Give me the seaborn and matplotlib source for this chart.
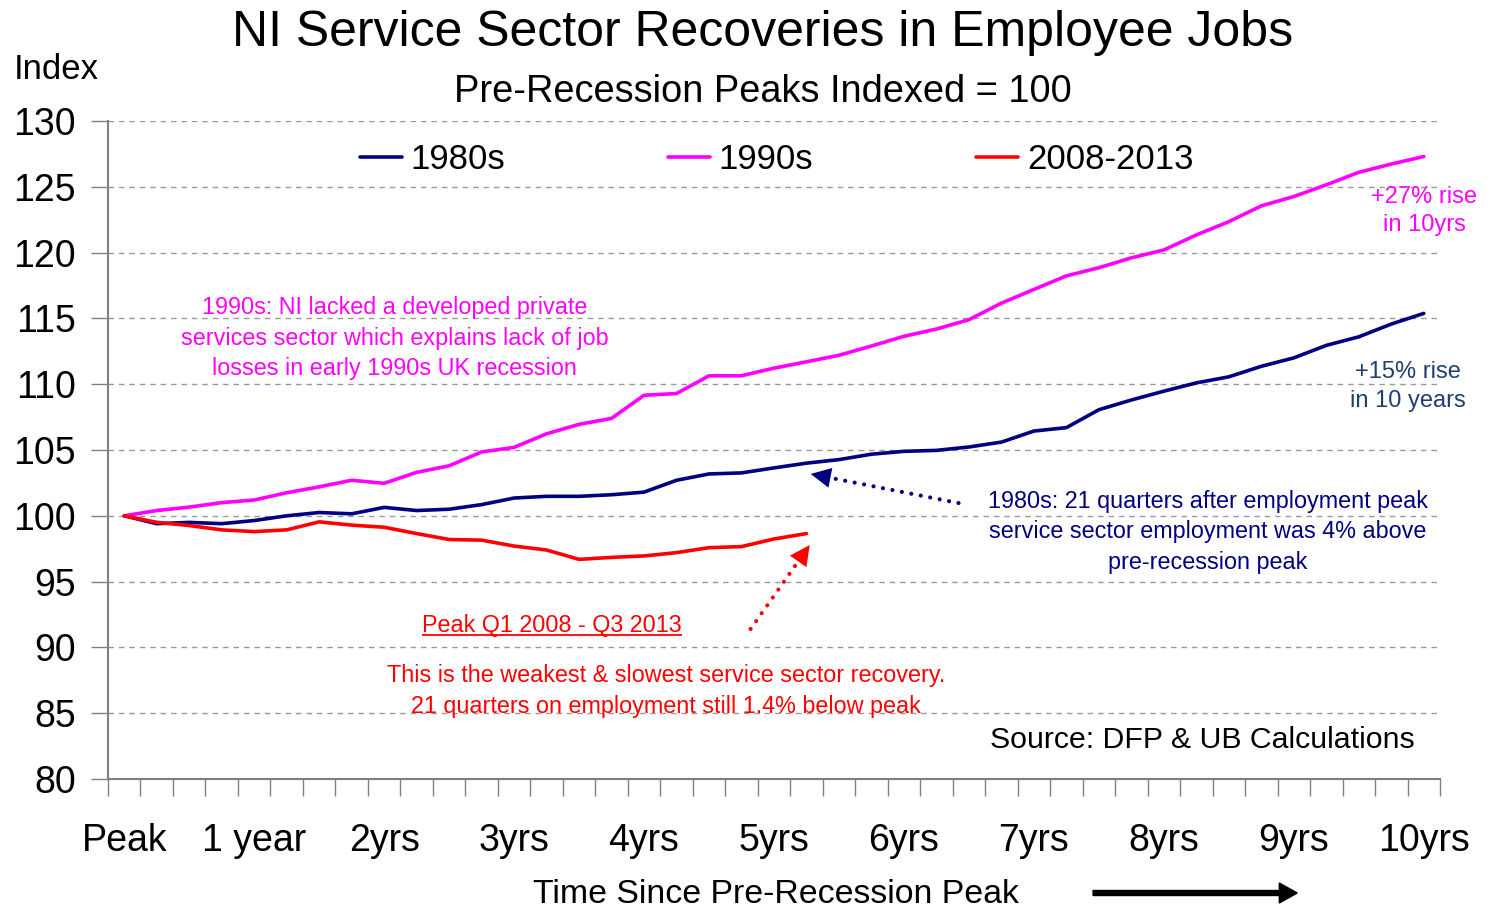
import numpy as np
import pandas as pd
import matplotlib
matplotlib.use("Agg")
import matplotlib.pyplot as plt
import seaborn as sns
from matplotlib.lines import Line2D

# ---------------- data ----------------
tick_labels = ["Peak", "1 year", "2yrs", "3yrs", "4yrs", "5yrs",
               "6yrs", "7yrs", "8yrs", "9yrs", "10yrs"]
series_names = ["1980s", "1990s", "2008-2013"]

s1980 = [100.0, 99.4, 99.5, 99.4, 99.64, 100.0, 100.25, 100.15, 100.64, 100.4,
         100.5, 100.85, 101.35, 101.48, 101.48, 101.6, 101.8, 102.7, 103.18, 103.26,
         103.64, 104.0, 104.27, 104.68, 104.9, 104.97, 105.23, 105.6, 106.44, 106.7,
         108.06, 108.8, 109.47, 110.1, 110.56, 111.36, 112.0, 112.95, 113.6, 114.57,
         115.38]
s1990 = [100.0, 100.4, 100.66, 101.0, 101.2, 101.75, 102.2, 102.7, 102.47, 103.3,
         103.8, 104.85, 105.2, 106.23, 106.95, 107.4, 109.16, 109.29, 110.64, 110.64,
         111.22, 111.7, 112.2, 112.9, 113.64, 114.19, 114.9, 116.16, 117.2, 118.23,
         118.85, 119.6, 120.2, 121.34, 122.35, 123.55, 124.26, 125.15, 126.1, 126.73,
         127.3]
s2008 = [100.0, 99.5, 99.26, 98.93, 98.8, 98.93, 99.54, 99.29, 99.13, 98.65,
         98.2, 98.15, 97.7, 97.4, 96.69, 96.84, 96.95, 97.2, 97.58, 97.66,
         98.24, 98.65]

colors = {"1980s": "#000080", "1990s": "#FF00FF", "2008-2013": "#FF0000"}

frames = []
for name, vals in zip(series_names, [s1980, s1990, s2008]):
    frames.append(pd.DataFrame({"quarter": np.arange(len(vals)),
                                "index": vals, "series": name}))
df = pd.concat(frames, ignore_index=True)

# ---------------- style ----------------
sns.set_style("white")
plt.rcParams['font.family'] = ['Liberation Sans', 'DejaVu Sans']
plt.rcParams['text.color'] = 'black'
plt.rcParams['xtick.labelcolor'] = 'black'
plt.rcParams['ytick.labelcolor'] = 'black'

fig = plt.figure(figsize=(14.9, 9.09), dpi=100)
ax = fig.add_axes([108/1490, 130/909, 1332/1490, 658/909])

sns.lineplot(data=df, x="quarter", y="index", hue="series",
             palette=colors, hue_order=series_names, linewidth=2.6,
             ax=ax, legend=False, zorder=3)

ax.set_xlim(-0.5, 40.5)
ax.set_ylim(80, 130)
ax.set_xlabel("")
ax.set_ylabel("")

# y axis
ax.set_yticks(np.arange(80, 131, 5))
ax.tick_params(axis="y", which="major", labelsize=27, length=12, width=1,
               color="#808080", direction="out", pad=11, left=True)
ax.yaxis.grid(True, linestyle=(0, (4, 3.5)), color="#9a9a9a", linewidth=1)
ax.xaxis.grid(False)

# x axis
ax.set_xticks(np.arange(0, 41, 4))
ax.set_xticklabels(tick_labels)
ax.set_xticks(np.arange(-0.5, 41, 1), minor=True)
ax.tick_params(axis="x", which="major", labelsize=27, length=0, pad=32)
ax.tick_params(axis="x", which="minor", length=12, width=1,
               color="#808080", direction="out", bottom=True)

for s in ["top", "right"]:
    ax.spines[s].set_visible(False)
for s in ["left", "bottom"]:
    ax.spines[s].set_color("#808080")
    ax.spines[s].set_linewidth(1.5)

# legend
handles = [Line2D([0], [0], color=colors[n], lw=2.6) for n in series_names]
ax.legend(handles, series_names, loc="center", bbox_to_anchor=(0.502, 0.941),
          ncol=3, frameon=False, fontsize=25, handlelength=1.2,
          handletextpad=0.25, columnspacing=4.7)

# titles
fig.text(0.512, 0.964, "NI Service Sector Recoveries in Employee Jobs",
         ha="center", va="center", fontsize=36)
fig.text(0.512, 0.899, "Pre-Recession Peaks Indexed = 100",
         ha="center", va="center", fontsize=27.4)
fig.text(0.0094, 0.923, "Index", ha="left", va="center", fontsize=25)
fig.text(0.521, 0.0165, "Time Since Pre-Recession Peak",
         ha="center", va="center", fontsize=24.4)
fig.patches.append(matplotlib.patches.FancyArrow(
    0.7336, 0.0176, 0.125, 0, width=0.0055, head_width=0.022,
    head_length=0.012, length_includes_head=False, color="black",
    transform=fig.transFigure, figure=fig))


def dotted_arrow(tail, tip, color):
    """Dotted shaft with a solid filled triangular head."""
    fig.canvas.draw()
    p_tail = ax.transData.transform(tail)
    p_tip = ax.transData.transform(tip)
    vec = p_tip - p_tail
    L = np.hypot(*vec)
    u = vec / L
    head_px = 18
    p_end = p_tip - u * (head_px + 2)
    inv = ax.transData.inverted()
    end = inv.transform(p_end)
    ax.plot([tail[0], end[0]], [tail[1], end[1]], color=color, lw=3.0,
            linestyle=(0, (0.01, 2.3)), dash_capstyle="round", zorder=4)
    back = inv.transform(p_tip - u * head_px)
    ax.annotate("", xy=tip, xytext=back,
                arrowprops=dict(arrowstyle="-|>", color=color, lw=0.01,
                                mutation_scale=36, shrinkA=0, shrinkB=0),
                zorder=4)


# annotations
FS = 16.8
ax.text(8.33, 113.5, "1990s: NI lacked a developed private\n"
        "services sector which explains lack of job\n"
        "losses in early 1990s UK recession",
        ha="center", va="center", color="#FF00FF", fontsize=FS, linespacing=1.42)
ax.text(40.02, 123.16, "+27% rise\nin 10yrs", ha="center", va="center",
        color="#FF00FF", fontsize=17, linespacing=1.4)
ax.text(39.5, 109.8, "+15% rise\nin 10 years", ha="center", va="center",
        color="#1F3F6F", fontsize=17, linespacing=1.4)
ax.text(33.35, 98.77, "1980s: 21 quarters after employment peak\n"
        "service sector employment was 4% above\npre-recession peak",
        ha="center", va="center", color="#000080", fontsize=FS, linespacing=1.42)
dotted_arrow((25.68, 100.97), (21.13, 103.18), "#000080")
dotted_arrow((19.28, 91.40), (21.1, 97.78), "#FF0000")
peak_txt = ax.text(13.17, 91.63, "Peak Q1 2008 - Q3 2013", ha="center",
                   va="center", color="#FF0000", fontsize=FS)
ax.text(16.67, 86.69, "This is the weakest & slowest service sector recovery.\n"
        "21 quarters on employment still 1.4% below peak",
        ha="center", va="center", color="#FF0000", fontsize=FS, linespacing=1.42)
ax.text(33.2, 82.96, "Source: DFP & UB Calculations", ha="center",
        va="center", color="black", fontsize=21.8)

# underline for the red heading
fig.canvas.draw()
bb = peak_txt.get_window_extent(renderer=fig.canvas.get_renderer())
inv = ax.transData.inverted()
(x0, y0), (x1, _) = inv.transform([(bb.x0, bb.y0 + 2), (bb.x1, bb.y0 + 2)])
ax.plot([x0, x1], [y0, y0], color="#FF0000", lw=1.3, solid_capstyle="butt")

fig.savefig("out.png", dpi=100)
